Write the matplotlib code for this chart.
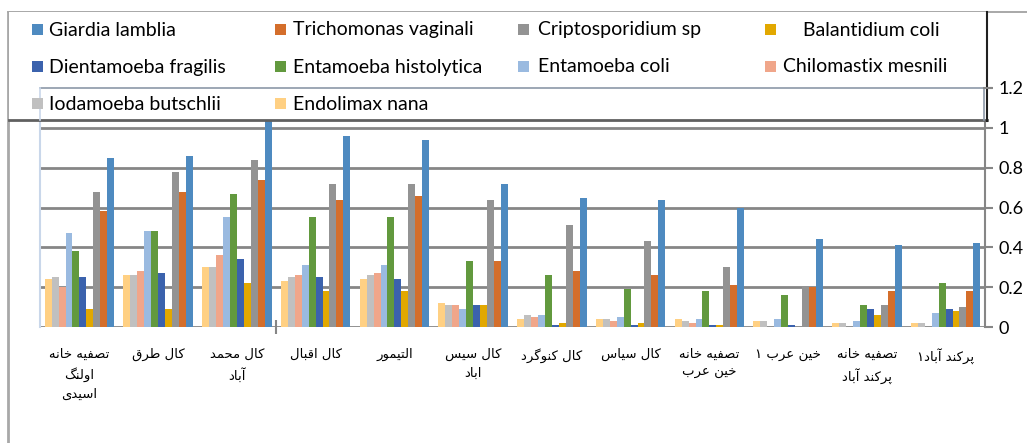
import numpy as np
import matplotlib.pyplot as plt
from matplotlib.patches import Rectangle
from matplotlib.lines import Line2D

# داده ها
places = [
    "تصفیه خانه\nاولنگ\nاسیدی", "کال طرق", "کال محمد\nآباد", "کال اقبال", "التیمور",
    "کال سیس\nاباد", "کال کنوگرد", "کال سیاس", "تصفیه خانه\nخین عرب", "خین عرب ۱",
    "تصفیه خانه\nپرکند آباد", "پرکند آباد۱",
]
series_names = [
    "Giardia lamblia", "Trichomonas vaginali", "Criptosporidium sp", "Balantidium coli",
    "Dientamoeba fragilis", "Entamoeba histolytica", "Entamoeba coli", "Chilomastix mesnili",
    "Iodamoeba butschlii", "Endolimax nana",
]
giardia = [0.85, 0.86, 1.04, 0.96, 0.94, 0.72, 0.65, 0.64, 0.60, 0.44, 0.41, 0.42]
trichomonas = [0.58, 0.68, 0.74, 0.64, 0.66, 0.33, 0.28, 0.26, 0.21, 0.20, 0.18, 0.18]
cripto = [0.68, 0.78, 0.84, 0.72, 0.72, 0.64, 0.51, 0.43, 0.30, 0.20, 0.11, 0.10]
balantidium = [0.09, 0.09, 0.22, 0.18, 0.18, 0.11, 0.02, 0.02, 0.01, 0.0, 0.06, 0.08]
dientamoeba = [0.25, 0.27, 0.34, 0.25, 0.24, 0.11, 0.01, 0.01, 0.01, 0.01, 0.09, 0.09]
e_histolytica = [0.38, 0.48, 0.67, 0.55, 0.55, 0.33, 0.26, 0.19, 0.18, 0.16, 0.11, 0.22]
e_coli = [0.47, 0.48, 0.55, 0.31, 0.31, 0.09, 0.06, 0.05, 0.04, 0.04, 0.03, 0.07]
chilomastix = [0.20, 0.28, 0.36, 0.26, 0.27, 0.11, 0.05, 0.03, 0.02, 0.0, 0.0, 0.0]
iodamoeba = [0.25, 0.26, 0.30, 0.25, 0.26, 0.11, 0.06, 0.04, 0.03, 0.03, 0.02, 0.02]
endolimax = [0.24, 0.26, 0.30, 0.23, 0.24, 0.12, 0.04, 0.04, 0.04, 0.03, 0.02, 0.02]
all_series = [giardia, trichomonas, cripto, balantidium, dientamoeba,
              e_histolytica, e_coli, chilomastix, iodamoeba, endolimax]
colors = ['#4E8AC0', '#D46E2B', '#939393', '#E2A800', '#3B62AD',
          '#62993E', '#9ABAE0', '#F0A68A', '#C0C0C0', '#FFD083']
yticks = [0, 0.2, 0.4, 0.6, 0.8, 1.0, 1.2]
ytick_labels = ['0', '0.2', '0.4', '0.6', '0.8', '1', '1.2']

# شکل دادن حروف فارسی (بدون کتابخانه جانبی)
FORMS = {
    'ا': (0xFE8D, 0xFE8E), 'آ': (0xFE81, 0xFE82), 'د': (0xFEA9, 0xFEAA),
    'ر': (0xFEAD, 0xFEAE), 'و': (0xFEED, 0xFEEE),
    'ب': (0xFE8F, 0xFE90, 0xFE91, 0xFE92), 'پ': (0xFB56, 0xFB57, 0xFB58, 0xFB59),
    'ت': (0xFE95, 0xFE96, 0xFE97, 0xFE98), 'ح': (0xFEA1, 0xFEA2, 0xFEA3, 0xFEA4),
    'خ': (0xFEA5, 0xFEA6, 0xFEA7, 0xFEA8), 'س': (0xFEB1, 0xFEB2, 0xFEB3, 0xFEB4),
    'ص': (0xFEB9, 0xFEBA, 0xFEBB, 0xFEBC), 'ط': (0xFEC1, 0xFEC2, 0xFEC3, 0xFEC4),
    'ع': (0xFEC9, 0xFECA, 0xFECB, 0xFECC), 'ف': (0xFED1, 0xFED2, 0xFED3, 0xFED4),
    'ق': (0xFED5, 0xFED6, 0xFED7, 0xFED8), 'ک': (0xFB8E, 0xFB8F, 0xFB90, 0xFB91),
    'گ': (0xFB92, 0xFB93, 0xFB94, 0xFB95), 'ل': (0xFEDD, 0xFEDE, 0xFEDF, 0xFEE0),
    'م': (0xFEE1, 0xFEE2, 0xFEE3, 0xFEE4), 'ن': (0xFEE5, 0xFEE6, 0xFEE7, 0xFEE8),
    'ه': (0xFEE9, 0xFEEA, 0xFEEB, 0xFEEC), 'ی': (0xFBFC, 0xFBFD, 0xFBFE, 0xFBFF),
}


def shape_line(s):
    out = []
    for i, c in enumerate(s):
        if c not in FORMS:
            out.append(c)
            continue
        prev = s[i - 1] if i > 0 else ''
        nxt = s[i + 1] if i + 1 < len(s) else ''
        before = prev in FORMS and len(FORMS[prev]) == 4
        after = len(FORMS[c]) == 4 and nxt in FORMS
        f = FORMS[c]
        if before and after:
            g = f[3]
        elif before:
            g = f[1]
        elif after:
            g = f[2]
        else:
            g = f[0]
        out.append(chr(g))
    return ''.join(out)[::-1]


def farsi(s):
    return '\n'.join(shape_line(line) for line in s.split('\n'))


W, H = 1027, 443
fig = plt.figure(figsize=(W / 100, H / 100), dpi=100)
ax = fig.add_axes([40 / W, 1 - 327 / H, 945 / W, 239 / H])

n = len(places)
x = np.arange(n)
bw = 0.088
for k, (vals, col) in enumerate(zip(all_series, colors)):
    j = len(all_series) - 1 - k
    ax.bar(x + (j - 4.5) * bw, vals, width=bw, color=col, zorder=3)

ax.set_xlim(-0.5, n - 0.5)
ax.set_ylim(0, 1.2)
ax.yaxis.tick_right()
ax.set_yticks(yticks)
ax.set_yticklabels(ytick_labels, fontsize=13, family=['Lato', 'DejaVu Sans'])
ax.tick_params(axis='y', length=6, width=1.5, color='#868686', pad=4)
ax.grid(axis='y', color='#868686', linewidth=2, zorder=1)

ax.set_xticks(x)
ax.set_xticklabels([farsi(p) for p in places], fontsize=9.5, family=['DejaVu Sans'],
                   linespacing=1.55)
ax.tick_params(axis='x', length=0, pad=15)
ax.set_xticks([2.5], minor=True)
ax.tick_params(axis='x', which='minor', length=10, width=1.5, color='#868686',
               direction='inout')

for s in ['top', 'bottom']:
    ax.spines[s].set_visible(False)
ax.spines['left'].set_color('#C9D7EA')
ax.spines['left'].set_linewidth(1.5)
ax.spines['right'].set_color('#868686')
ax.spines['right'].set_linewidth(1.5)


def fx(px):
    return px / W


def fy(py):
    return 1 - py / H


# کادر بیرونی
fig.add_artist(Line2D([fx(8), fx(W)], [fy(12), fy(12)], color='#9A9A9A', lw=1.2))
fig.add_artist(Line2D([fx(8), fx(8)], [fy(12), fy(H)], color='#A8A8A8', lw=2))

# راهنما
fig.add_artist(Rectangle((fx(9), fy(120)), fx(987) - fx(9), fy(12) - fy(120),
                         facecolor='white', edgecolor='none', zorder=2))
fig.add_artist(Line2D([fx(9), fx(987)], [fy(120), fy(120)], color='#606060', lw=2, zorder=3))
fig.add_artist(Line2D([fx(987), fx(987)], [fy(12), fy(121)], color='#202020', lw=1.5, zorder=3))
fig.add_artist(Line2D([fx(40), fx(984), fx(984)], [fy(88), fy(88), fy(120)],
                      color='#8C98A8', lw=1.2, zorder=3))
fig.add_artist(Line2D([fx(40), fx(40)], [fy(88), fy(120)], color='#C9D7EA', lw=1.2, zorder=3))
fig.add_artist(Line2D([fx(984), fx(991)], [fy(88), fy(88)], color='#868686', lw=1.5, zorder=3))

col_marker = [32, 275, 518, 765]
col_text = [49, 293, 538, 783]
row_y = [29, 66, 103]
for k, name in enumerate(series_names):
    r, c = divmod(k, 4)
    fig.add_artist(Rectangle((fx(col_marker[c]), fy(row_y[r] + 5.5)), fx(11), 11 / H,
                             facecolor=colors[k], edgecolor='none', zorder=4))
    tx = col_text[c] + (20 if name == "Balantidium coli" else 0)
    fig.text(fx(tx), fy(row_y[r] + 1), name, fontsize=14, family=['Lato', 'DejaVu Sans'],
             va='center', ha='left', zorder=5)

fig.savefig('out.png', dpi=100)
